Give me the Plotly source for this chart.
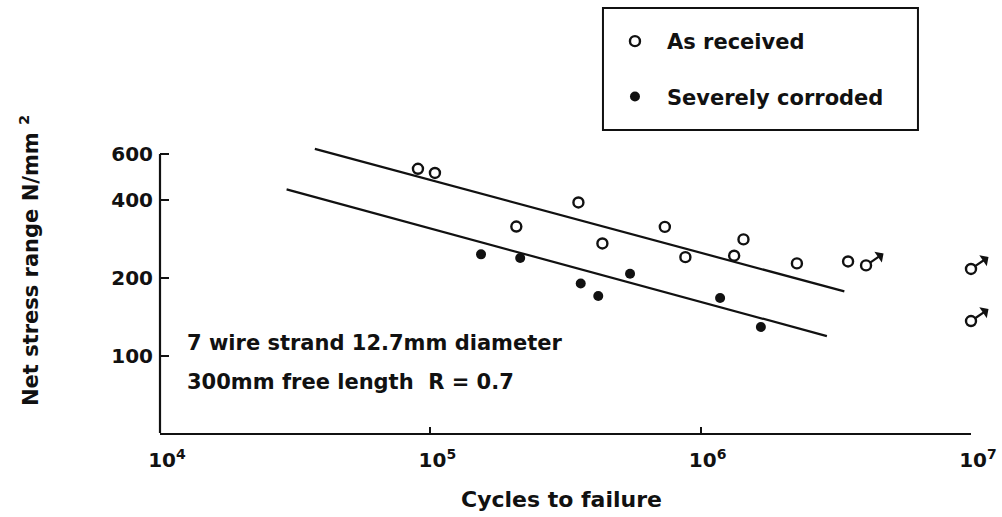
import math
import plotly.graph_objects as go

# ---- data ----
as_received_x = [9.0e4, 1.04e5, 2.08e5, 3.53e5, 4.33e5, 7.37e5, 8.78e5, 1.33e6, 1.44e6, 2.27e6, 3.51e6]
as_received_y = [526, 507, 315, 390, 271, 314, 240, 243, 281, 227, 231]
runout_x = [4.09e6, 1.0e7, 1.0e7]
runout_y = [223, 216, 136]
corroded_x = [1.54e5, 2.15e5, 3.60e5, 4.18e5, 5.48e5, 1.18e6, 1.67e6]
corroded_y = [246, 238, 190, 170, 207, 167, 129]
upper_fit_x = [3.74e4, 3.40e6]
upper_fit_y = [628, 177]
lower_fit_x = [2.94e4, 2.93e6]
lower_fit_y = [438, 119]

x_tickvals = [1e4, 1e5, 1e6, 1e7]
x_ticktext = ["10<sup>4</sup>", "10<sup>5</sup>", "10<sup>6</sup>", "10<sup>7</sup>"]
y_tickvals = [100, 200, 400, 600]
y_ticktext = ["100", "200", "400", "600"]

FONT = "DejaVu Sans"
INK = "#111111"

Y_LO, Y_HI, Y_AXIS_TOP = 50.3, 650.0, 600.0
y_axis_top_frac = (math.log10(Y_AXIS_TOP) - math.log10(Y_LO)) / (math.log10(Y_HI) - math.log10(Y_LO))

fig = go.Figure()

fig.add_trace(go.Scatter(x=upper_fit_x, y=upper_fit_y, mode="lines",
                         line=dict(color=INK, width=2.2), showlegend=False, hoverinfo="skip"))
fig.add_trace(go.Scatter(x=lower_fit_x, y=lower_fit_y, mode="lines",
                         line=dict(color=INK, width=2.2), showlegend=False, hoverinfo="skip"))

fig.add_trace(go.Scatter(
    x=as_received_x + runout_x, y=as_received_y + runout_y, mode="markers",
    name="As received", legendgroup="a",
    marker=dict(symbol="circle-open", size=10, color=INK, line=dict(width=2.4, color=INK)),
    cliponaxis=False))
fig.add_trace(go.Scatter(
    x=corroded_x, y=corroded_y, mode="markers",
    name="Severely corroded", legendgroup="b",
    marker=dict(symbol="circle", size=10, color=INK),
    cliponaxis=False))

# run-out arrows
for rx, ry in zip(runout_x, runout_y):
    fig.add_annotation(x=math.log10(rx), y=math.log10(ry), xref="x", yref="y",
                       text="", showarrow=True, ax=19, ay=-13,
                       arrowside="start", arrowhead=2, arrowsize=0.9, arrowwidth=2.2,
                       arrowcolor=INK, standoff=5)

fig.add_annotation(text="7 wire strand 12.7mm diameter", xref="paper", yref="paper",
                   x=0.0308, y=0.3125, xanchor="left", yanchor="middle", showarrow=False,
                   font=dict(family=FONT, size=21, color=INK, weight="bold"))
fig.add_annotation(text="300mm free length  R = 0.7", xref="paper", yref="paper",
                   x=0.0308, y=0.1771, xanchor="left", yanchor="middle", showarrow=False,
                   font=dict(family=FONT, size=21, color=INK, weight="bold"))

fig.add_annotation(text="Net stress range N/mm <sup>2</sup>", xref="paper", yref="paper",
                   x=-0.1615, y=0.5972, textangle=-90, xanchor="center", yanchor="middle",
                   showarrow=False, font=dict(family=FONT, size=21, color=INK, weight="bold"))
fig.add_annotation(text="Cycles to failure", xref="paper", yref="paper",
                   x=0.495, y=-0.2326, xanchor="center", yanchor="middle",
                   showarrow=False, font=dict(family=FONT, size=22, color=INK, weight="bold"))

# y axis line (stops at 600) and legend frame
fig.add_shape(type="line", xref="paper", yref="paper", x0=0, x1=0, y0=0, y1=y_axis_top_frac,
              line=dict(color=INK, width=2.2))
fig.add_shape(type="rect", xref="paper", yref="paper", x0=0.5462, x1=0.9346, y0=1.0521, y1=1.4757,
              line=dict(color=INK, width=2), fillcolor="rgba(0,0,0,0)")

fig.update_layout(
    width=1002, height=517,
    margin=dict(l=160, r=31, t=145, b=84, autoexpand=False),
    paper_bgcolor="white", plot_bgcolor="white",
    font=dict(family=FONT, color=INK),
    showlegend=True,
    legend=dict(x=0.5462, y=1.4306, xanchor="left", yanchor="top",
                borderwidth=0, bgcolor="rgba(0,0,0,0)",
                font=dict(family=FONT, size=21, color=INK, weight="bold"),
                tracegroupgap=25, itemwidth=54),
    xaxis=dict(type="log", range=[4, 7], tickvals=x_tickvals, ticktext=x_ticktext,
               automargin=False,
               showgrid=False, zeroline=False, showline=True, linecolor=INK, linewidth=2.2,
               ticks="inside", ticklen=6, tickwidth=1.5, tickcolor=INK,
               ticklabelshift=7, ticklabelstandoff=8,
               tickfont=dict(family=FONT, size=20, color=INK, weight="bold")),
    yaxis=dict(type="log", range=[math.log10(Y_LO), math.log10(Y_HI)],
               tickvals=y_tickvals, ticktext=y_ticktext, automargin=False,
               showgrid=False, zeroline=False, showline=False,
               ticks="inside", ticklen=9, tickwidth=1.8, tickcolor=INK,
               ticklabelstandoff=6,
               tickfont=dict(family=FONT, size=20, color=INK, weight="bold")),
)

fig.write_html("out.html", config={"displayModeBar": False},
               post_script="document.body.style.margin='0px';")
